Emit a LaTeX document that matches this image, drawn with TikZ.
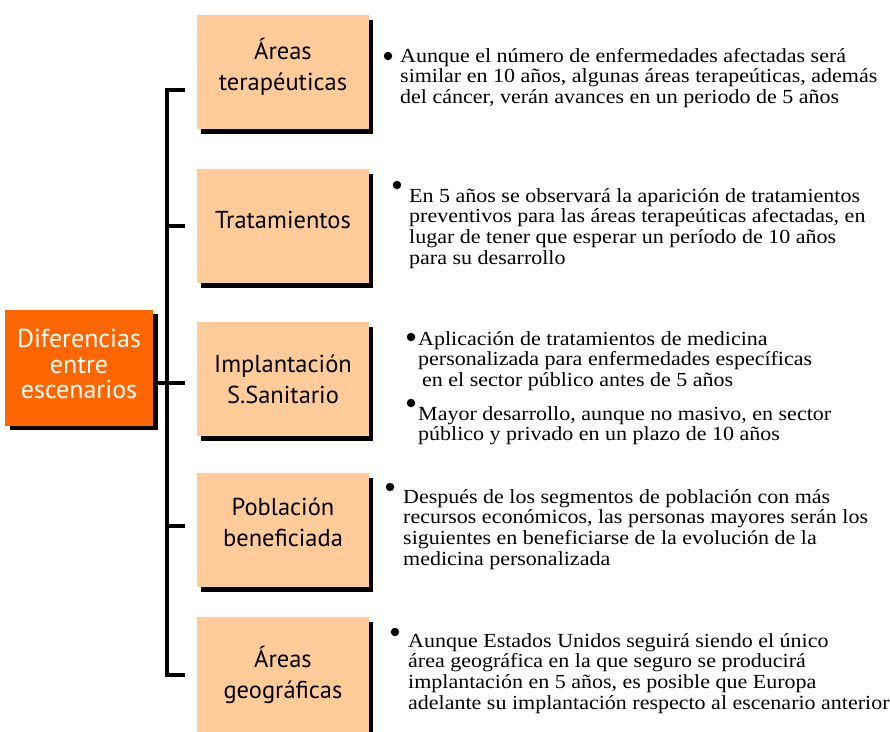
\documentclass[tikz,border=0pt]{standalone}
\usepackage{fontspec}
\setmainfont{Liberation Serif}
\newfontfamily\bodyfont[FakeStretch=1.1]{Liberation Serif}
\newfontfamily\boxfont{PT Sans}
\usetikzlibrary{shadows}
\definecolor{peach}{HTML}{FFCC99}
\definecolor{deeporange}{HTML}{FF6600}
\begin{document}
\begin{tikzpicture}[x=1pt,y=-1pt,
  catbox/.style={fill=peach, minimum width=172pt, minimum height=114pt, inner sep=0pt,
    drop shadow={shadow xshift=4pt, shadow yshift=-5pt, fill=black, opacity=1}},
  mainbox/.style={fill=deeporange, minimum width=148pt, minimum height=116pt, inner sep=0pt,
    drop shadow={shadow xshift=5pt, shadow yshift=-4pt, fill=black, opacity=1}},
  catlabel/.style={anchor=north, inner sep=0pt, align=center, text=black,
    font=\boxfont\fontsize{24.5}{31}\selectfont},
  mainlabel/.style={anchor=north, inner sep=0pt, align=center, text=white,
    font=\boxfont\fontsize{26}{25.5}\selectfont},
  bodytext/.style={anchor=north west, inner sep=0pt, align=left,
    font=\bodyfont\fontsize{20}{20.8}\selectfont},
  bulletdot/.style={circle, fill=black, minimum size=8.5pt, inner sep=0pt},
  conn/.style={line width=3.2pt}
]
\useasboundingbox[fill=white] (0,0) rectangle (890,731);

% main box
\node[mainbox] (main) at (79,368) {};
\node[mainlabel] (mainlbl) at (79,329.2) {\strut Diferencias\\entre\\escenarios};

% category boxes
\node[catbox] (b1) at (283,71.5) {};
\node[catbox] (b2) at (283,225.5) {};
\node[catbox] (b3) at (283,379) {};
\node[catbox] (b4) at (283,529.5) {};
\node[catbox, minimum height=120pt] (b5) at (283,677) {};

\node[catlabel] (l1) at (283,37.3) {\strut Áreas\\terapéuticas};
\node[catlabel] (l2) at (283,206.3) {\strut Tratamientos};
\node[catlabel] (l3) at (283,350.3) {\strut Implantación\\S.Sanitario};
\node[catlabel] (l4) at (283,493.3) {\strut Población\\beneficiada};
\node[catlabel] (l5) at (283,645.3) {\strut Áreas\\geográficas};

% connectors
\coordinate (st) at (167,90);
\coordinate (sb) at (167,675);
\coordinate (k1) at (185,90);
\coordinate (k2) at (185,226);
\coordinate (k3) at (185,383);
\coordinate (k4) at (185,526);
\coordinate (k5) at (185,675);
\draw[conn] (k1) -- (st) -- (sb) -- (k5);
\draw[conn] (k2) -- (k2 -| st);
\draw[conn] (k4) -- (k4 -| st);
\draw[conn] (main.east |- k3) -- (k3);

% bullets
\node[bulletdot] (d1) at (388,56) {};
\node[bulletdot] (d2) at (397,185) {};
\node[bulletdot] (d3a) at (411,337) {};
\node[bulletdot] (d3b) at (411,403) {};
\node[bulletdot] (d4) at (390,487) {};
\node[bulletdot] (d5) at (395,632) {};

% texts
\node[bodytext] (t1) at (400,47.4) {\strut Aunque el número de enfermedades afectadas será\\
similar en 10 años, algunas áreas terapeúticas, además\\
del cáncer, verán avances en un periodo de 5 años};
\node[bodytext] (t2) at (409,187.4) {\strut En 5 años se observará la aparición de tratamientos\\
preventivos para las áreas terapeúticas afectadas, en\\
lugar de tener que esperar un período de 10 años\\
para su desarrollo};
\node[bodytext] (t3a) at (418,330.4) {\strut Aplicación de tratamientos de medicina\\
personalizada para enfermedades específicas\\
\hspace{4pt}en el sector público antes de 5 años};
\node[bodytext] (t3b) at (418,405.4) {\strut Mayor desarrollo, aunque no masivo, en sector\\
público y privado en un plazo de 10 años};
\node[bodytext] (t4) at (403,488.4) {\strut Después de los segmentos de población con más\\
recursos económicos, las personas mayores serán los\\
siguientes en beneficiarse de la evolución de la\\
medicina personalizada};
\node[bodytext] (t5) at (408,632.4) {\strut Aunque Estados Unidos seguirá siendo el único\\
área geográfica en la que seguro se producirá\\
implantación en 5 años, es posible que Europa\\
adelante su implantación respecto al escenario anterior};
\end{tikzpicture}
\end{document}
